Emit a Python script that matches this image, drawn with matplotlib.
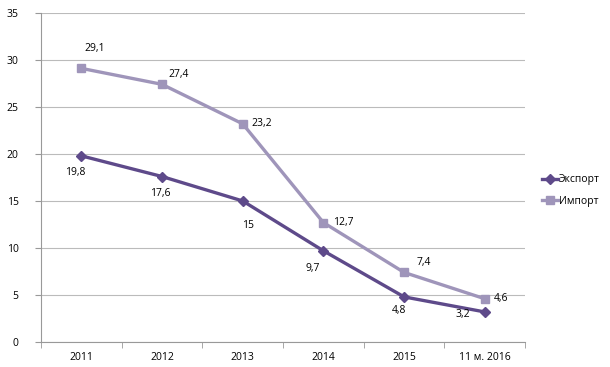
import numpy as np
import matplotlib.pyplot as plt

years = ["2011", "2012", "2013", "2014", "2015", "11 м. 2016"]
eksport = [19.8, 17.6, 15, 9.7, 4.8, 3.2]
import_ = [29.1, 27.4, 23.2, 12.7, 7.4, 4.6]
eksportLbl = ["19,8", "17,6", "15", "9,7", "4,8", "3,2"]
importLbl = ["29,1", "27,4", "23,2", "12,7", "7,4", "4,6"]

plt.rcParams["font.family"] = ["Open Sans", "DejaVu Sans"]

fig = plt.figure(figsize=(6.1, 3.67), dpi=100)
ax = fig.add_axes([0.067, 0.068, 0.794, 0.897])

x = np.arange(len(years))
darkCol = "#5e4a8a"
lightCol = "#9f95ba"

ax.plot(x, eksport, color=darkCol, lw=2.4, marker="D", ms=5, label="Экспорт", zorder=3)
ax.plot(x, import_, color=lightCol, lw=2.4, marker="s", ms=6, label="Импорт", zorder=3)

# label offsets in points, picked by eye
impOff = [(10, 14), (12, 7), (14, 0), (14, 0), (14, 7), (12, 0)]
expOff = [(-4, -12), (-1, -12), (4, -18), (-8, -13), (-4, -10), (-16, -2)]
for i in range(len(years)):
    ax.annotate(importLbl[i], (x[i], import_[i]), xytext=impOff[i], textcoords="offset points",
                ha="center", va="center", fontsize=7.5)
    ax.annotate(eksportLbl[i], (x[i], eksport[i]), xytext=expOff[i], textcoords="offset points",
                ha="center", va="center", fontsize=7.5)

ax.set_xlim(-0.5, len(years) - 0.5)
ax.set_ylim(0, 35)
ax.set_yticks(range(0, 36, 5))
ax.set_xticks(x)
ax.set_xticklabels(years, fontsize=7.5)
ax.set_xticks(np.arange(-0.5, len(years)), minor=True)
ax.tick_params(axis="x", which="major", length=0, pad=7)
ax.tick_params(axis="x", which="minor", length=4, color="#999999")
ax.tick_params(axis="y", length=4, color="#999999", labelsize=7.5, pad=12)
ax.grid(axis="y", color="#bbbbbb", lw=0.8)
ax.set_axisbelow(True)
for s in ["top", "right"]:
    ax.spines[s].set_visible(False)
ax.spines["left"].set_color("#999999")
ax.spines["bottom"].set_color("#999999")

ax.legend(loc="center left", bbox_to_anchor=(1.005, 0.46), frameon=False, fontsize=7.5,
          handlelength=1.5, handletextpad=0.1, borderaxespad=1.0, labelspacing=1.0)

fig.savefig("out.png", dpi=100)
